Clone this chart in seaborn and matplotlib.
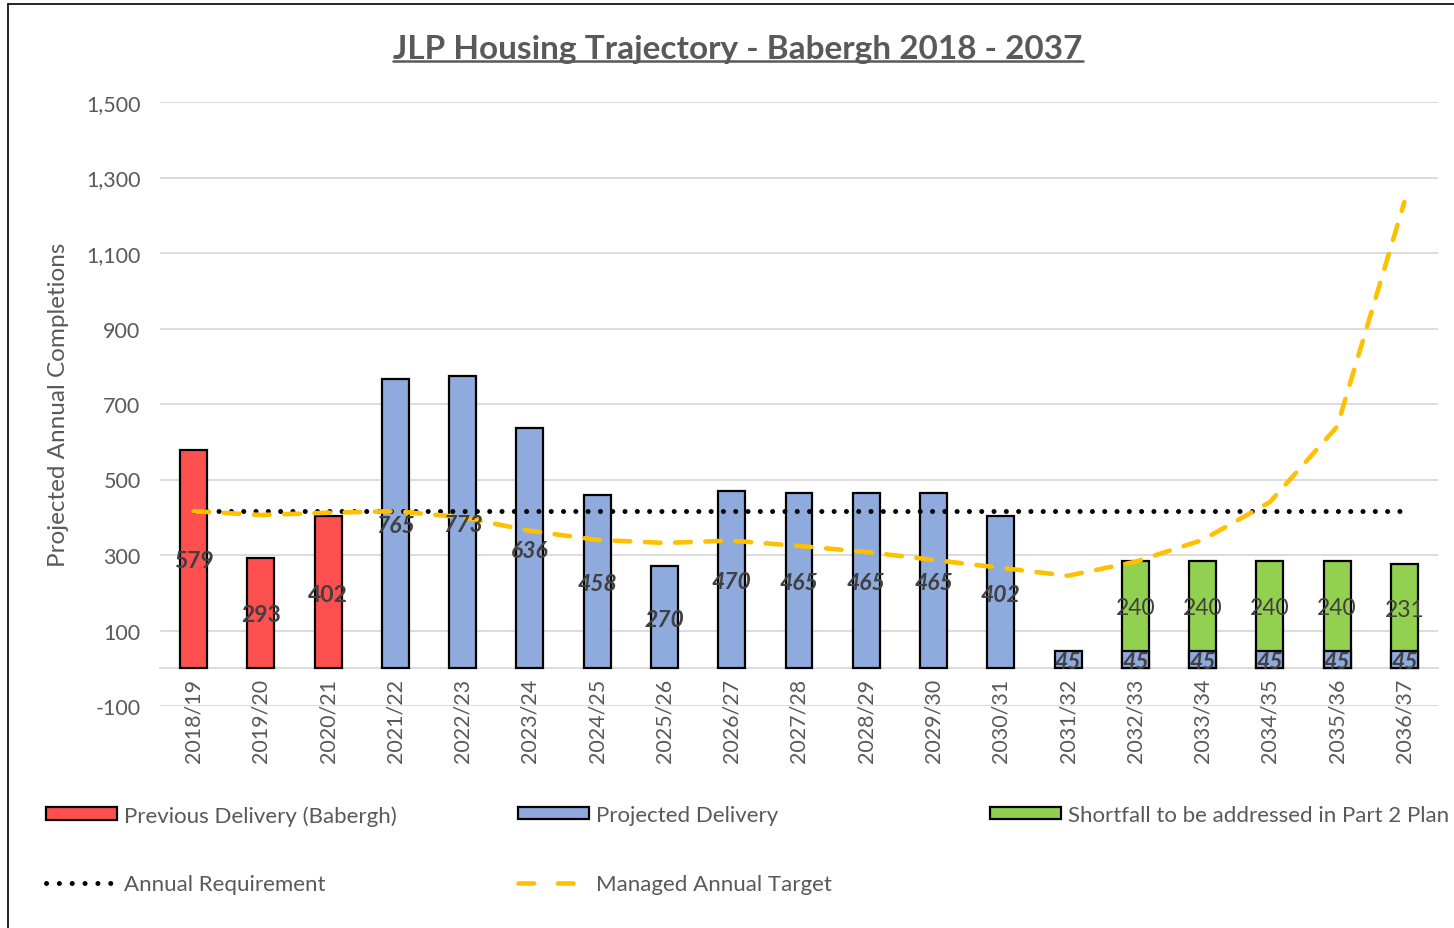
import numpy as np
import pandas as pd
import matplotlib
matplotlib.use("Agg")
import matplotlib.pyplot as plt
import seaborn as sns
from matplotlib.patches import Patch
from matplotlib.lines import Line2D

# ---------------- data ----------------
years = ["2018/19", "2019/20", "2020/21", "2021/22", "2022/23", "2023/24", "2024/25",
         "2025/26", "2026/27", "2027/28", "2028/29", "2029/30", "2030/31", "2031/32",
         "2032/33", "2033/34", "2034/35", "2035/36", "2036/37"]
previous_years = ["2018/19", "2019/20", "2020/21"]
previous_delivery = [579, 293, 402]
projected_years = years[3:]
projected_delivery = [765, 773, 636, 458, 270, 470, 465, 465, 465, 402, 45, 45, 45, 45, 45, 45]
shortfall_years = ["2032/33", "2033/34", "2034/35", "2035/36", "2036/37"]
shortfall = [240, 240, 240, 240, 231]
annual_requirement = [416] * len(years)
managed_target = [416, 406, 412, 416, 400, 364, 340, 332, 338, 324, 308, 287, 266, 245,
                  282, 340, 440, 640, 1235]
y_ticks = [-100, 100, 300, 500, 700, 900, 1100, 1300, 1500]

# ---------------- style ----------------
sns.set_theme(style="white")
FONT = ["Lato", "DejaVu Sans"]
plt.rcParams["font.family"] = FONT
GREY = "#595959"
RED = "#FF5050"
BLUE = "#8FAADC"
GREEN = "#92D050"
GOLD = "#FFC000"

fig = plt.figure(figsize=(14.54, 9.29), dpi=100)
ax = fig.add_axes([160 / 1454, 1 - 707 / 929, (1438 - 160) / 1454, (707 - 103) / 929])

df_prev = pd.DataFrame({"year": previous_years, "value": previous_delivery})
df_proj = pd.DataFrame({"year": projected_years, "value": projected_delivery})
proj_map = dict(zip(projected_years, projected_delivery))
df_short = pd.DataFrame({"year": shortfall_years,
                         "value": shortfall,
                         "total": [proj_map[y] + s for y, s in zip(shortfall_years, shortfall)]})

bar_kw = dict(order=years, width=0.4, edgecolor="black", linewidth=1.6, zorder=3)
# stacked: totals (green) first, projected drawn on top
sns.barplot(data=df_short, x="year", y="total", color=GREEN, saturation=1, ax=ax, **bar_kw)
sns.barplot(data=df_prev, x="year", y="value", color=RED, saturation=1, ax=ax, **bar_kw)
sns.barplot(data=df_proj, x="year", y="value", color=BLUE, saturation=1, ax=ax, **bar_kw)

xpos = np.arange(len(years))
sns.lineplot(x=xpos, y=annual_requirement, ax=ax, color="black", linewidth=3.6,
             linestyle=(0, (0.01, 2.45)), dash_capstyle="round", zorder=4, sort=False)
sns.lineplot(x=xpos, y=managed_target, ax=ax, color=GOLD, linewidth=3.3,
             linestyle=(0, (3.4, 3.2)), dash_capstyle="round", zorder=5, sort=False)

# data labels
pos = {y: i for i, y in enumerate(years)}
LBL = "#404040"
for y, v in zip(previous_years, previous_delivery):
    ax.text(pos[y], v / 2, f"{v}", ha="center", va="center_baseline", fontsize=16.5,
            fontweight="bold", color=LBL, zorder=6)
for y, v in zip(projected_years, projected_delivery):
    ax.text(pos[y], v / 2, f"{v}", ha="center", va="center_baseline", fontsize=16.5,
            fontweight="bold", fontstyle="italic", color=LBL, zorder=6)
for y, s in zip(shortfall_years, shortfall):
    base = proj_map[y]
    ax.text(pos[y], base + s / 2, f"{s}", ha="center", va="center_baseline", fontsize=16.5,
            color=LBL, zorder=6)

# axes
ax.set_xlim(-0.5, len(years) - 0.5)
ax.set_ylim(-100, 1500)
ax.set_yticks(y_ticks)
ax.set_yticklabels([f"{t:,}" for t in y_ticks])
ax.yaxis.grid(True, color="#D9D9D9", linewidth=1.3, zorder=0)
ax.set_axisbelow(True)
for s in ["top", "right", "left"]:
    ax.spines[s].set_visible(False)
ax.spines["bottom"].set_position(("data", 0))
ax.spines["bottom"].set_color("#D9D9D9")
ax.spines["bottom"].set_linewidth(1.3)
ax.spines["bottom"].set_zorder(2)
ax.tick_params(axis="both", length=0, labelsize=15.5, labelcolor=GREY)
ax.tick_params(axis="y", pad=14)
ax.tick_params(axis="x", pad=7)
ax.set_xticks(xpos)
ax.set_xticklabels(years, rotation=90)
ax.set_xlabel("")
ax.set_ylabel("Projected Annual Completions", fontsize=17.5, color=GREY, labelpad=12)

# title with underline
title = fig.text(738 / 1454, 1 - 49 / 929, "JLP Housing Trajectory - Babergh 2018 - 2037",
                 ha="center", va="center", fontsize=24, fontweight="bold", color=GREY)
fig.canvas.draw()
bb = title.get_window_extent().transformed(fig.transFigure.inverted())
fig.add_artist(Line2D([bb.x0, bb.x1], [bb.y0 + 0.002, bb.y0 + 0.002],
                      transform=fig.transFigure, color=GREY, linewidth=1.8))

# chart frame (left & top edges visible)
fig.add_artist(Line2D([8 / 1454, 8 / 1454], [0, 1 - 5 / 929], transform=fig.transFigure,
                      color="black", linewidth=1.2))
fig.add_artist(Line2D([8 / 1454, 1], [1 - 5 / 929, 1 - 5 / 929], transform=fig.transFigure,
                      color="black", linewidth=1.2))

# legends
h_prev = Patch(facecolor=RED, edgecolor="black", linewidth=1.6)
h_proj = Patch(facecolor=BLUE, edgecolor="black", linewidth=1.6)
h_short = Patch(facecolor=GREEN, edgecolor="black", linewidth=1.6)
h_req = Line2D([], [], color="black", linewidth=3.6, linestyle=(0, (0.01, 2.56)),
               dash_capstyle="round")
h_man = Line2D([], [], color=GOLD, linewidth=3.3, linestyle=(0, (3.4, 5.2)),
               dash_capstyle="round")
leg_kw = dict(loc="upper left", frameon=False, fontsize=16, labelcolor=GREY,
              handlelength=3.2, handleheight=0.5, handletextpad=0.3,
              labelspacing=2.2, borderaxespad=0, borderpad=0)
l1 = fig.legend([h_prev, h_req], ["Previous Delivery (Babergh)", "Annual Requirement"],
                bbox_to_anchor=(46 / 1454, 1 - 806 / 929), **leg_kw)
l2 = fig.legend([h_proj, h_man], ["Projected Delivery", "Managed Annual Target"],
                bbox_to_anchor=(518 / 1454, 1 - 806 / 929), **leg_kw)
l3 = fig.legend([h_short], ["Shortfall to be addressed in Part 2 Plan"],
                bbox_to_anchor=(990 / 1454, 1 - 806 / 929), **leg_kw)

fig.savefig("out.png", dpi=100, facecolor="white")
